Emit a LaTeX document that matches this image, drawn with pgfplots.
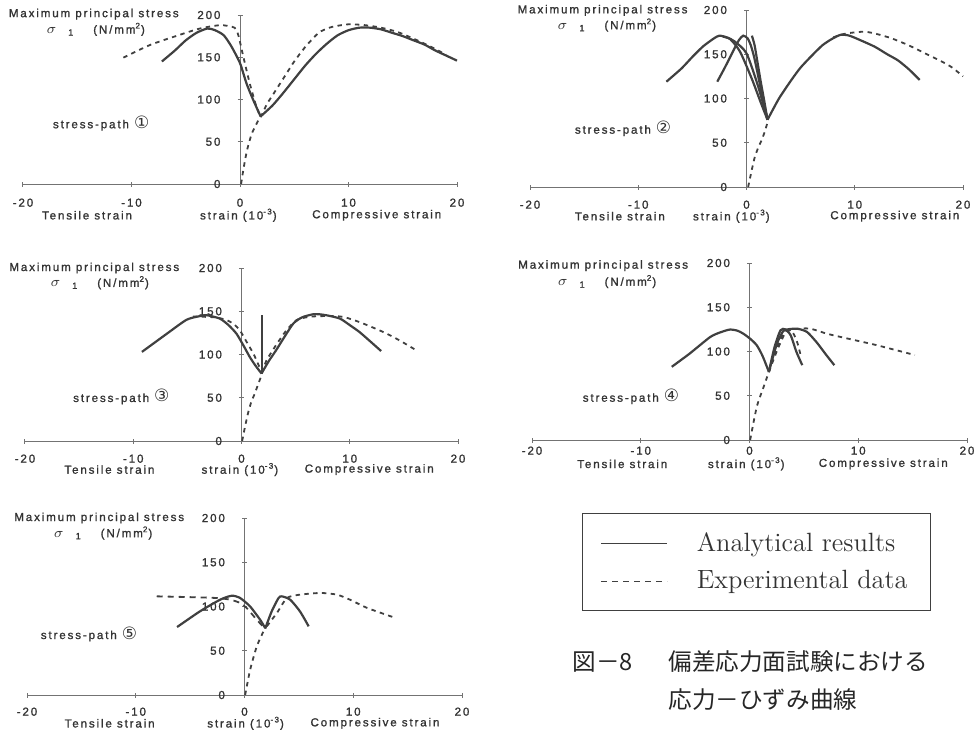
\documentclass[border=0pt]{standalone}
\usepackage{pgfplots}
\pgfplotsset{compat=1.18}
\usepackage{fontspec}
\newfontfamily\gfont[LetterSpace=16, FakeBold=1.3]{Liberation Sans}
\newfontfamily\circfont{DejaVu Sans}
\newfontfamily\cjk{Noto Sans CJK JP}
\newcommand{\lab}{\gfont\fontsize{5.8}{7}\selectfont}
\newcommand{\sig}{\fontsize{6.6}{7}\selectfont$\sigma$\hspace{6pt}\raisebox{-1pt}{\fontsize{4.5}{5}\selectfont 1}\hspace{10pt}\lab(N/mm\textsuperscript{2})}
\newcommand{\spath}[1]{stress-path {\circfont\fontsize{8.5}{9}\selectfont #1}}
\pgfplotsset{
  panel/.style={
    scale only axis, axis lines=middle,
    axis line style={-, black!55, line width=0.5pt},
    xmin=-20, xmax=20, ymin=0, ymax=200,
    xtick={-20,-10,0,10,20}, ytick={0,50,100,150,200},
    hide obscured x ticks=false, hide obscured y ticks=false,
    tick style={black!55, line width=0.5pt}, major tick length=2.5pt,
    tick label style={font=\lab, text=black!80},
    yticklabel style={xshift=-5pt},
    /pgf/number format/assume math mode=true,
    clip=false, anchor=south west,
  },
  ana0/.style={black!75, line width=1.1pt, smooth, tension=0.4, no marks},
  exp0/.style={black!75, line width=0.9pt, dash pattern=on 2.2pt off 2.2pt, smooth, tension=0.4, no marks},
  ana/.style={ana0, forget plot},
  exp/.style={exp0, forget plot},
}
\begin{document}
\begin{tikzpicture}
\useasboundingbox (0,0) rectangle (487pt,-364.5pt);
% ---------------- Plot 1 ----------------
\begin{axis}[panel, at={(11.5pt,-92pt)}, width=217pt, height=84.5pt,
  xticklabel style={yshift=-2.5pt}]
\addplot[ana] coordinates {(-7.2,145) (-6,158) (-5,170) (-4,179) (-3,184) (-2.3,182) (-1.5,176) (-0.8,163) (0,143) (0.6,119) (1.2,100) (1.9,80)};
\addplot[ana] coordinates {(1.9,80) (3,93) (4,108) (5,124) (6,140) (7,154) (8,166) (9,176) (10,182) (11,185) (12,185) (13,183) (14,179) (15,175) (16,170) (17,165) (18,158) (19,152) (20,146)};
\addplot[exp] coordinates {(-10.75,149.5) (-8.3,164.5) (-5.8,175.5) (-3.7,184) (-1.8,188) (-0.5,185) (-0.15,176) (0.3,151) (0.9,119) (1.5,92) (1.9,79)};
\addplot[exp] coordinates {(1.9,79) (2.5,95) (3,105) (4,125) (5,145) (6,162) (7,176) (7.5,181) (8.5,186) (10,189) (11.5,188) (13,185) (14.5,180) (16,172) (17.5,163) (19,153)};
\addplot[exp] coordinates {(0.1,0) (0.35,20) (0.65,40) (1.1,60) (1.84,79)};
\node[anchor=east, font=\lab, text=black!80] at (axis cs:-5,201) {Maximum principal stress};
\node[font=\lab, text=black!80] at (axis cs:-13.3,183) {\sig};
\node[font=\lab, text=black!80] at (axis cs:-12.8,72) {\spath{①}};
\node[font=\lab, text=black!80] at (axis cs:-14.1,-37) {Tensile strain};
\node[font=\lab, text=black!80] at (axis cs:-0.15,-37) {strain (10\textsuperscript{-3})};
\node[font=\lab, text=black!80] at (axis cs:12.6,-37) {Compressive strain};
\end{axis}
% ---------------- Plot 2 ----------------
\begin{axis}[panel, at={(265pt,-93.5pt)}, width=216.5pt, height=88.5pt,
  xticklabel style={yshift=-2pt}]
\addplot[ana] coordinates {(-7.4,119) (-6,134) (-5,147) (-4,159) (-3,168) (-2.5,171) (-1.8,169) (-1.1,164.5) (0,151) (1.08,113.5) (1.94,76)};
\addplot[ana] coordinates {(-2.2,170) (-1.5,167) (-0.6,153) (0.5,122) (1.3,96) (1.94,76)};
\addplot[ana] coordinates {(-2.7,119) (-2.0,135) (-1.3,152) (-0.7,166) (-0.3,171) (0.1,168) (0.4,160) (0.7,147) (1.0,130) (1.3,112) (1.6,95) (1.94,76)};
\addplot[ana] coordinates {(0.5,171) (0.75,160) (1.0,142) (1.3,120) (1.6,100) (1.94,76)};
\addplot[ana] coordinates {(1.94,76) (3,100) (4.15,121) (5,135) (6,148) (7,160) (7.85,167) (8.7,172) (9.5,171) (10.5,166) (11.85,158.5) (13,150) (14,143) (15,133) (16,121)};
\addplot[exp] coordinates {(8.0,169) (8.7,172) (9.5,174) (10.9,175.5) (12,173) (13.4,168) (15,160) (16.5,151) (18,142) (19,135) (20,125)};
\addplot[exp] coordinates {(0.15,0) (0.5,20) (0.77,34) (1.1,45) (1.4,53) (1.7,63) (1.94,73)};
\node[anchor=east, font=\lab, text=black!80] at (axis cs:-4.8,199.6) {Maximum principal stress};
\node[font=\lab, text=black!80] at (axis cs:-12.9,183) {\sig};
\node[font=\lab, text=black!80] at (axis cs:-11.4,66) {\spath{②}};
\node[font=\lab, text=black!80] at (axis cs:-11.7,-33) {Tensile strain};
\node[font=\lab, text=black!80] at (axis cs:-1.4,-33) {strain (10\textsuperscript{-3})};
\node[font=\lab, text=black!80] at (axis cs:13.7,-33) {Compressive strain};
\end{axis}
% ---------------- Plot 3 ----------------
\begin{axis}[panel, at={(12.5pt,-220.5pt)}, width=216.5pt, height=86.5pt,
  xticklabel style={yshift=-2pt}]
\addplot[ana] coordinates {(-9.2,103) (-6.9,124) (-5.1,140) (-4,144) (-3.2,145.4) (-2,141.5) (-1.2,134) (-0.46,124) (0.2,110) (0.77,97) (1.3,87) (1.85,78)};
\addplot[black!75, line width=1.1pt, forget plot] coordinates {(1.88,78) (1.88,146)};
\addplot[ana] coordinates {(1.85,78) (2.5,92) (3.2,105) (4,121) (4.8,136) (5.6,143) (6.6,146.5) (7.2,146.5) (8,145) (9.1,141.5) (10,134) (10.9,126) (12,114) (12.9,104)};
\addplot[exp] coordinates {(-4.5,144) (-2.5,143) (-1.4,140) (-0.7,135) (-0.15,128) (0.5,114) (1.1,101) (1.5,90) (1.85,80)};
\addplot[exp] coordinates {(1.9,79) (2.3,93) (3.2,111) (4.15,128) (5.1,140) (6,143) (6.6,144) (8,144.5) (9.4,143.5) (11,137) (13.1,126) (14.5,117) (16,106)};
\addplot[exp] coordinates {(0.06,0) (0.3,15) (0.6,32) (0.9,45) (1.23,55) (1.55,66) (1.85,76)};
\node[anchor=east, font=\lab, text=black!80] at (axis cs:-5.1,200) {Maximum principal stress};
\node[font=\lab, text=black!80] at (axis cs:-13.1,183) {\sig};
\node[font=\lab, text=black!80] at (axis cs:-11.1,51) {\spath{③}};
\node[font=\lab, text=black!80] at (axis cs:-12.2,-33) {Tensile strain};
\node[font=\lab, text=black!80] at (axis cs:-0.15,-33) {strain (10\textsuperscript{-3})};
\node[font=\lab, text=black!80] at (axis cs:11.8,-33) {Compressive strain};
\end{axis}
% ---------------- Plot 4 ----------------
\begin{axis}[panel, at={(266pt,-220pt)}, width=217.5pt, height=88.5pt,
  xticklabel style={yshift=1.5pt}]
\addplot[ana] coordinates {(-7.15,82.7) (-5.5,97.7) (-3.6,116.5) (-2.6,122) (-1.8,124.8) (-1.1,123.5) (-0.55,120) (0.1,114) (0.67,107) (1.2,95) (1.78,77)};
\addplot[ana] coordinates {(1.78,77) (2.3,105) (2.85,124) (3.3,125) (3.8,118) (4.3,100) (4.85,84.6)};
\addplot[ana] coordinates {(1.78,77) (2.5,108) (3.1,123) (3.8,125.5) (4.5,125.5) (5.3,122) (6.2,110) (7,97) (7.8,84.6)};
\addplot[exp] coordinates {(0.06,0) (0.67,37.6) (1.3,60) (1.78,77)};
\addplot[exp] coordinates {(1.78,77) (2.4,100) (3.0,118) (3.5,124) (4.0,121) (4.4,110) (4.7,96)};
\addplot[exp] coordinates {(1.78,77) (2.6,103) (3.3,121) (4.0,125) (5.5,126) (7.15,120) (9,114.7) (11.75,107) (15.2,96)};
\node[anchor=east, font=\lab, text=black!80] at (axis cs:-5,197) {Maximum principal stress};
\node[font=\lab, text=black!80] at (axis cs:-13.1,179) {\sig};
\node[font=\lab, text=black!80] at (axis cs:-10.9,49) {\spath{④}};
\node[font=\lab, text=black!80] at (axis cs:-11.7,-27) {Tensile strain};
\node[font=\lab, text=black!80] at (axis cs:-0.3,-27) {strain (10\textsuperscript{-3})};
\node[font=\lab, text=black!80] at (axis cs:12.3,-27) {Compressive strain};
\end{axis}
% ---------------- Plot 5 ----------------
\begin{axis}[panel, at={(13.5pt,-347.5pt)}, width=217.5pt, height=88.5pt,
  xticklabel style={yshift=-1.5pt},
  legend style={at={(rel axis cs:1.276,1.028)}, anchor=north west,
    draw=black!75, line width=0.6pt, inner xsep=9pt, inner ysep=7.5pt,
    row sep=4pt, font=\fontsize{13.2}{15}\selectfont, text=black!80,
    cells={anchor=west},
    /tikz/every odd column/.append style={column sep=12.5pt}},
  legend image code/.code={\draw[#1, line width=0.6pt] (0pt,0pt) -- (33pt,0pt);}]
\addplot[ana0] coordinates {(-6.2,76.8) (-4.1,94.5) (-2.24,107.7) (-1.17,112.2) (-0.4,109.6) (0.52,100) (1.44,85) (1.9,75.7)};
\addlegendentry{\makebox[106pt][l]{Analytical results}}
\addplot[exp0, dash pattern=on 3pt off 2.5pt] coordinates {(-8.07,111.5) (-5.3,110.7) (-2.55,109.6) (-1.3,107.7) (-0.4,104) (0.2,98.3) (1.13,85) (1.84,75.7)};
\addlegendentry{\makebox[106pt][l]{Experimental data}}
\addplot[ana] coordinates {(1.9,75) (2.5,94.5) (3.13,109.6) (3.43,111.5) (4.2,107.7) (5.1,94.5) (5.9,77.6)};
\addplot[exp] coordinates {(0.06,0) (0.52,28.6) (1.13,55) (1.75,72)};
\addplot[exp] coordinates {(2.05,77.6) (2.98,92.7) (3.9,109.6) (5.1,113.4) (7,115.3) (8.5,113.4) (9.7,107.7) (11.3,98.3) (13.9,87)};
\node[anchor=east, font=\lab, text=black!80] at (axis cs:-4.9,200) {Maximum principal stress};
\node[font=\lab, text=black!80] at (axis cs:-13,183) {\sig};
\node[font=\lab, text=black!80] at (axis cs:-14.3,69) {\spath{⑤}};
\node[font=\lab, text=black!80] at (axis cs:-12.4,-32) {Tensile strain};
\node[font=\lab, text=black!80] at (axis cs:0.1,-32) {strain (10\textsuperscript{-3})};
\node[font=\lab, text=black!80] at (axis cs:12,-32) {Compressive strain};
\end{axis}
% ---------------- Caption ----------------
\node[anchor=base west, inner sep=0pt, font=\cjk\fontsize{11.8}{14}\selectfont, text=black!85] at (286pt,-335pt) {図－8};
\node[anchor=base west, inner sep=0pt, font=\cjk\fontsize{11.8}{14}\selectfont, text=black!85] at (334pt,-335pt) {偏差応力面試験における};
\node[anchor=base west, inner sep=0pt, font=\cjk\fontsize{11.8}{14}\selectfont, text=black!85] at (334pt,-354pt) {応力－ひずみ曲線};
\end{tikzpicture}
\end{document}
